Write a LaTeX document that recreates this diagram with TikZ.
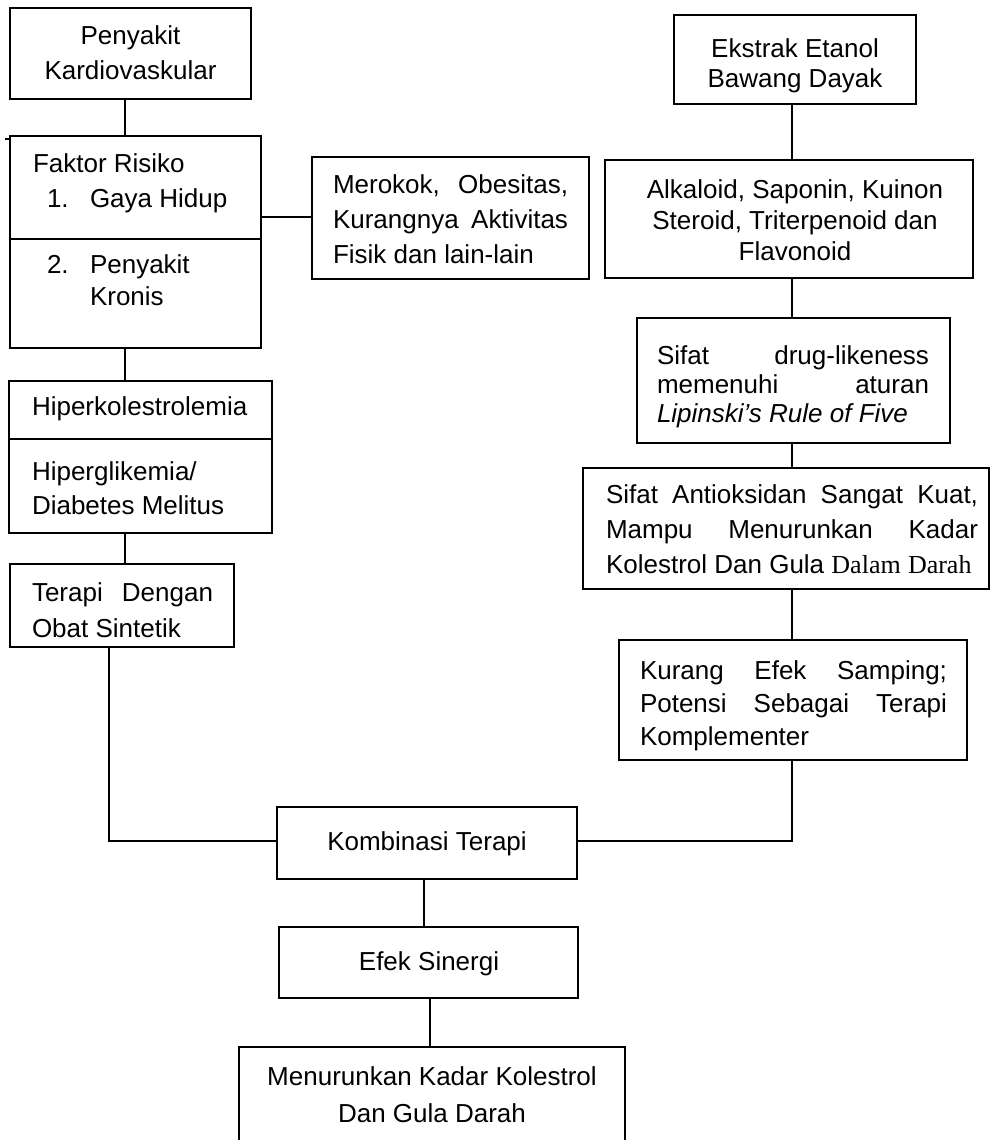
\documentclass[tikz,border=0pt]{standalone}
\usepackage{fontspec}
\setmainfont{Liberation Sans}
\newfontfamily\serifface{Liberation Serif}
\newcommand{\natsp}{\spaceskip=0.278em\xspaceskip=0.278em\relax}
\begin{document}
\begin{tikzpicture}[x=1pt,y=-1pt,
  box/.style={draw, line width=2pt, inner sep=0pt, outer sep=0pt, anchor=north west},
  conn/.style={line width=2pt},
  txt/.style={inner sep=0pt, outer sep=0pt, anchor=base west, align=left, text width=#1, font=\fontsize{26}{35}\selectfont},
  txt/.default=300pt,
  ctxt/.style={inner sep=0pt, outer sep=0pt, anchor=base, align=center, text width=#1, font=\fontsize{26}{35}\selectfont},
  ctxt/.default=380pt]
\useasboundingbox (0,0) rectangle (991,1140);
\clip (0,0) rectangle (991,1140);

% boxes
\node[box, minimum width=241pt, minimum height=91pt]  (b1)  at (10,8) {};
\node[box, minimum width=251pt, minimum height=212pt] (b2)  at (10,136) {};
\node[box, minimum width=277pt, minimum height=122pt] (b3)  at (312,157) {};
\node[box, minimum width=263pt, minimum height=152pt] (b4)  at (9,381) {};
\node[box, minimum width=224pt, minimum height=83pt]  (b5)  at (10,564) {};
\node[box, minimum width=242pt, minimum height=89pt]  (b6)  at (674,15) {};
\node[box, minimum width=368pt, minimum height=118pt] (b7)  at (605,160) {};
\node[box, minimum width=313pt, minimum height=125pt] (b8)  at (637,318) {};
\node[box, minimum width=406pt, minimum height=121pt] (b9)  at (583,468) {};
\node[box, minimum width=348pt, minimum height=120pt] (b10) at (619,640) {};
\node[box, minimum width=300pt, minimum height=72pt]  (b11) at (277,807) {};
\node[box, minimum width=299pt, minimum height=71pt]  (b12) at (279,927) {};
\node[box, minimum width=386pt, minimum height=110pt] (b13) at (239,1047) {};

% dividers and stray tick
\coordinate (yd1) at (0,239);
\coordinate (yd2) at (0,439);
\draw[conn] (b2.west |- yd1) -- (b2.east |- yd1);
\draw[conn] (b4.west |- yd2) -- (b4.east |- yd2);
\draw[line width=1.5pt] (b2.north west) ++(-5,3) -- ++(5,0);

% texts
\node[ctxt=240pt] (t1) at (130.5,45) {\natsp Penyakit\\Kardiovaskular};
\node[txt=220pt] (t2a) at (33,172) {\natsp Faktor Risiko};
\node[txt=30pt] (t2b) at (47,207) {1.};
\node[txt=160pt] (t2c) at (90,207) {\natsp Gaya Hidup};
\node[txt=30pt] (t2d) at (47,273) {2.};
\node[txt=160pt, font=\fontsize{26}{32}\selectfont] (t2e) at (90,273) {\natsp Penyakit\\Kronis};
\node[txt=235pt, font=\fontsize{26}{35}\selectfont] (t3) at (333,193)
  {\natsp\makebox[235pt][s]{Merokok,\hfill Obesitas,}\\\makebox[235pt][s]{Kurangnya\hfill Aktivitas}\\Fisik dan lain-lain};
\node[txt=235pt] (t4a) at (32,415) {\natsp Hiperkolestrolemia};
\node[txt=235pt, font=\fontsize{26}{34}\selectfont] (t4b) at (32,480) {\natsp Hiperglikemia/\\Diabetes Melitus};
\node[txt=181pt, font=\fontsize{26}{36}\selectfont] (t5) at (32,601)
  {\natsp\makebox[181pt][s]{Terapi\hfill Dengan}\\Obat Sintetik};
\node[ctxt=240pt, font=\fontsize{26}{29}\selectfont] (t6) at (795,58) {\natsp Ekstrak Etanol\\Bawang Dayak};
\node[ctxt=366pt, font=\fontsize{26}{31}\selectfont] (t7) at (795,198)
  {\natsp Alkaloid, Saponin, Kuinon\\Steroid, Triterpenoid dan\\Flavonoid};
\node[txt=272pt, font=\fontsize{26}{29}\selectfont] (t8) at (657,364)
  {\natsp\makebox[272pt][s]{Sifat\hfill drug-likeness}\\\makebox[272pt][s]{memenuhi\hfill aturan}\\\textit{Lipinski’s Rule of Five}};
\node[txt=372pt, font=\fontsize{26}{35}\selectfont] (t9) at (606,503)
  {\natsp\makebox[372pt][s]{Sifat\hfill Antioksidan\hfill Sangat\hfill Kuat,}\\\makebox[372pt][s]{Mampu\hfill Menurunkan\hfill Kadar}\\Kolestrol Dan Gula {\serifface Dalam Darah}};
\node[txt=307pt, font=\fontsize{26}{33}\selectfont] (t10) at (640,679)
  {\natsp\makebox[307pt][s]{Kurang\hfill Efek\hfill Samping;}\\\makebox[307pt][s]{Potensi\hfill Sebagai\hfill Terapi}\\Komplementer};
\node[ctxt=290pt] (t11) at (427,850) {\natsp Kombinasi Terapi};
\node[ctxt=290pt] (t12) at (429,970) {\natsp Efek Sinergi};
\node[ctxt=380pt, font=\fontsize{26}{37}\selectfont] (t13) at (432,1085)
  {\natsp Menurunkan Kadar Kolestrol\\Dan Gula Darah};

% connectors
\coordinate (xl) at (125,0);
\coordinate (xt) at (109,0);
\coordinate (xr) at (792,0);
\coordinate (xe) at (424,0);
\coordinate (xm) at (430,0);
\coordinate (ym) at (0,217);
\coordinate (yk) at (0,841);
\draw[conn] (b1.south -| xl) -- (b2.north -| xl);
\draw[conn] (b2.east |- ym) -- (b3.west |- ym);
\draw[conn] (b2.south -| xl) -- (b4.north -| xl);
\draw[conn] (b4.south -| xl) -- (b5.north -| xl);
\draw[conn] (b5.south -| xt) |- (b11.west |- yk);
\draw[conn] (b6.south -| xr) -- (b7.north -| xr);
\draw[conn] (b7.south -| xr) -- (b8.north -| xr);
\draw[conn] (b8.south -| xr) -- (b9.north -| xr);
\draw[conn] (b9.south -| xr) -- (b10.north -| xr);
\draw[conn] (b10.south -| xr) |- (b11.east |- yk);
\draw[conn] (b11.south -| xe) -- (b12.north -| xe);
\draw[conn] (b12.south -| xm) -- (b13.north -| xm);
\end{tikzpicture}
\end{document}
